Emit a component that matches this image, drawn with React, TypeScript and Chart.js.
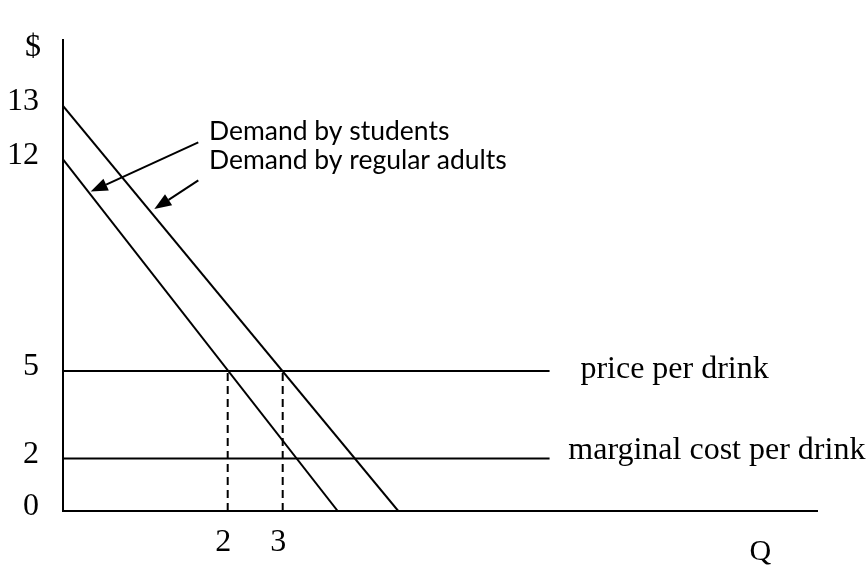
import React, { useEffect, useRef } from 'react';
import { Chart, LinearScale, registerables } from 'chart.js';

// ---------------- data ----------------
const yTickValues = [0, 2, 5, 12, 13];      // $ labels on the vertical axis
const xTickValues = [2, 3];                 // Q labels on the horizontal axis
const adultsDemandQ = [0, 5.1];             // demand by regular adults
const adultsDemandP = [13, 0];
const studentsDemandQ = [0, 4];             // demand by students
const studentsDemandP = [12, 0];
const priceLineQ = [0, 7.85];               // price per drink
const priceLineP = [5, 5];
const costLineQ = [0, 7.85];                // marginal cost per drink
const costLineP = [2, 2];
const quantitiesAtPrice = [2, 3];           // students, adults at P = 5

// ---------------- layout of the hand-drawn (non-uniform) axes ----------------
// [value, reference pixel] pairs; the drawing is not to scale.
const X_BREAKS: number[][] = [[0, 63], [2, 227.7], [3, 282.7], [12.71, 817]];
const Y_BREAKS: number[][] = [[0, 511], [2, 456], [5, 364.5], [12, 143], [13, 87], [14.23, 18]];

const SERIF = 'Liberation Serif';
const SANS = 'Lato';

function makePiecewiseScale(id: string, breaks: number[][]) {
  const vals = breaks.map(b => b[0]);
  const px = breaks.map(b => b[1]);
  const p0 = px[0];
  const pN = px[px.length - 1];
  const fr = px.map(p => (p - p0) / (pN - p0));
  const n = vals.length;
  const toDec = (v: number) => {
    let i = 0;
    if (v <= vals[0]) i = 0;
    else if (v >= vals[n - 1]) i = n - 2;
    else { while (i < n - 2 && v > vals[i + 1]) i++; }
    const t = (v - vals[i]) / (vals[i + 1] - vals[i]);
    return fr[i] + t * (fr[i + 1] - fr[i]);
  };
  const fromDec = (d: number) => {
    let i = 0;
    if (d <= fr[0]) i = 0;
    else if (d >= fr[n - 1]) i = n - 2;
    else { while (i < n - 2 && d > fr[i + 1]) i++; }
    const t = (d - fr[i]) / (fr[i + 1] - fr[i]);
    return vals[i] + t * (vals[i + 1] - vals[i]);
  };
  class PiecewiseScale extends LinearScale {
    getPixelForValue(value: any) {
      if (value === null || value === undefined || isNaN(value)) return NaN;
      return (this as any).getPixelForDecimal(toDec(+value));
    }
    getValueForPixel(pixel: number) {
      return fromDec((this as any).getDecimalForPixel(pixel));
    }
  }
  (PiecewiseScale as any).id = id;
  return PiecewiseScale;
}

const PiecewiseX = makePiecewiseScale('piecewiseX', X_BREAKS);
const PiecewiseY = makePiecewiseScale('piecewiseY', Y_BREAKS);
Chart.register(...registerables, PiecewiseX as any, PiecewiseY as any);

// ---------------- annotations (positions in data units) ----------------
const TEXTS = [
  { text: '$', x: -0.364, y: 13.93, font: `32px "${SERIF}"`, align: 'center' },
  { text: 'Q', x: 11.68, y: -1.85, font: `30px "${SERIF}"`, align: 'center' },
  { text: 'Demand by students', x: 1.773, y: 12.36, font: `26.5px "${SANS}"`, align: 'left' },
  { text: 'Demand by regular adults', x: 1.773, y: 11.68, font: `26.5px "${SANS}"`, align: 'left' },
  { text: 'price per drink', x: 8.41, y: 4.75, font: `32px "${SERIF}"`, align: 'left' },
  { text: 'marginal cost per drink', x: 8.19, y: 1.97, font: `32px "${SERIF}"`, align: 'left' },
];
const ARROWS = [
  { from: [1.643, 12.32], to: [0.336, 10.935] },
  { from: [1.643, 11.305], to: [1.109, 10.357] },
];

const annotationPlugin = {
  id: 'annotations',
  afterDatasetsDraw(chart: any) {
    const { ctx } = chart;
    const xs = chart.scales.x;
    const ys = chart.scales.y;
    ctx.save();
    ctx.fillStyle = '#000';
    ctx.strokeStyle = '#000';
    ctx.textBaseline = 'alphabetic';
    for (const t of TEXTS) {
      ctx.font = t.font;
      ctx.textAlign = t.align;
      ctx.fillText(t.text, xs.getPixelForValue(t.x), ys.getPixelForValue(t.y));
    }
    ctx.lineWidth = 2;
    for (const a of ARROWS) {
      const x1 = xs.getPixelForValue(a.from[0]);
      const y1 = ys.getPixelForValue(a.from[1]);
      const x2 = xs.getPixelForValue(a.to[0]);
      const y2 = ys.getPixelForValue(a.to[1]);
      const ang = Math.atan2(y2 - y1, x2 - x1);
      const headLen = 17;
      const headHalf = 6.5;
      const bx = x2 - headLen * Math.cos(ang);
      const by = y2 - headLen * Math.sin(ang);
      ctx.beginPath();
      ctx.moveTo(x1, y1);
      ctx.lineTo(bx, by);
      ctx.stroke();
      ctx.beginPath();
      ctx.moveTo(x2, y2);
      ctx.lineTo(bx + headHalf * Math.sin(ang), by - headHalf * Math.cos(ang));
      ctx.lineTo(bx - headHalf * Math.sin(ang), by + headHalf * Math.cos(ang));
      ctx.closePath();
      ctx.fill();
    }
    ctx.restore();
  },
};

const pts = (qs: number[], ps: number[]) => qs.map((q, i) => ({ x: q, y: ps[i] }));

function buildConfig(): any {
  const solid = { borderColor: '#000', borderWidth: 2, pointRadius: 0, fill: false, tension: 0 };
  const dashed = { ...solid, borderDash: [8, 5] };
  return {
    type: 'line',
    data: {
      datasets: [
        { label: 'Demand by regular adults', data: pts(adultsDemandQ, adultsDemandP), ...solid },
        { label: 'Demand by students', data: pts(studentsDemandQ, studentsDemandP), ...solid },
        { label: 'price per drink', data: pts(priceLineQ, priceLineP), ...solid },
        { label: 'marginal cost per drink', data: pts(costLineQ, costLineP), ...solid },
        ...quantitiesAtPrice.map(q => ({
          label: `Q = ${q}`,
          data: [{ x: q, y: 0 }, { x: q, y: priceLineP[0] }],
          ...dashed,
        })),
      ],
    },
    options: {
      responsive: false,
      animation: false,
      devicePixelRatio: 1,
      events: [],
      layout: { padding: { top: 18, right: 50, left: 0, bottom: 0 } },
      plugins: { legend: { display: false }, tooltip: { enabled: false }, title: { display: false } },
      scales: {
        x: {
          type: 'piecewiseX',
          min: 0,
          max: X_BREAKS[X_BREAKS.length - 1][0],
          grid: { display: false, drawTicks: false },
          border: { display: true, color: '#000', width: 2 },
          ticks: {
            color: '#000',
            font: { family: SERIF, size: 32, lineHeight: 1 },
            padding: 15.5,
            labelOffset: -4.5,
            maxRotation: 0,
            autoSkip: false,
            callback: (v: any) => String(v),
          },
          afterBuildTicks: (s: any) => { s.ticks = xTickValues.map(v => ({ value: v })); },
          afterFit: (s: any) => { s.height = 56; },
        },
        y: {
          type: 'piecewiseY',
          min: 0,
          max: Y_BREAKS[Y_BREAKS.length - 1][0],
          grid: { display: false, drawTicks: false },
          border: { display: true, color: '#000', width: 2 },
          ticks: {
            color: '#000',
            font: { family: SERIF, size: 32, lineHeight: 1 },
            padding: 24,
            labelOffset: -4,
            autoSkip: false,
            callback: (v: any) => String(v),
          },
          afterBuildTicks: (s: any) => { s.ticks = yTickValues.map(v => ({ value: v })); },
          afterFit: (s: any) => { s.width = 63; },
        },
      },
    },
    plugins: [annotationPlugin],
  };
}

export default function App() {
  const ref = useRef<HTMLCanvasElement>(null);
  useEffect(() => {
    if (!ref.current) return;
    const chart = new Chart(ref.current, buildConfig());
    return () => chart.destroy();
  }, []);
  return (
    <div style={{ position: 'fixed', left: 0, top: 0, width: 867, height: 567, background: '#fff' }}>
      <canvas ref={ref} width={867} height={567} style={{ display: 'block' }} />
    </div>
  );
}
